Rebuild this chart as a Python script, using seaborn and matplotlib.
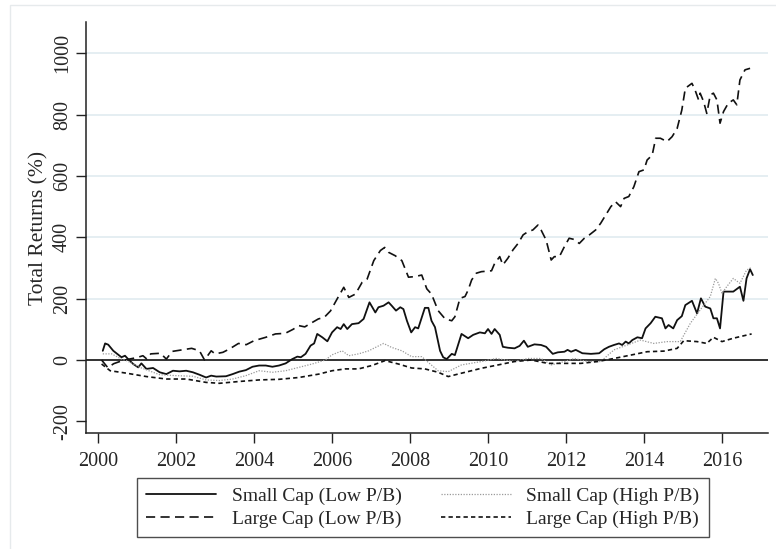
import numpy as np
import pandas as pd
import seaborn as sns
import matplotlib.pyplot as plt
from matplotlib.patches import Rectangle

sns.set_theme(style="white")
plt.rcParams['font.family'] = ['Liberation Serif', 'DejaVu Serif']
plt.rcParams['axes.unicode_minus'] = False

# (year, total return %)
small_low_x = [2000.12, 2000.18, 2000.26, 2000.39, 2000.52, 2000.6, 2000.69, 2000.77, 2000.9, 2001.03,
               2001.11, 2001.24, 2001.41, 2001.58, 2001.75, 2001.92, 2002.09, 2002.26, 2002.43, 2002.6,
               2002.77, 2002.9, 2003.03, 2003.28, 2003.45, 2003.62, 2003.79, 2003.96, 2004.13, 2004.3,
               2004.47, 2004.64, 2004.81, 2004.98, 2005.11, 2005.2, 2005.32, 2005.45, 2005.54, 2005.62,
               2005.75, 2005.88, 2006.0, 2006.13, 2006.22, 2006.3, 2006.39, 2006.51, 2006.68, 2006.81,
               2006.96, 2007.11, 2007.19, 2007.32, 2007.45, 2007.53, 2007.64, 2007.75, 2007.83, 2007.92,
               2008.03, 2008.13, 2008.21, 2008.3, 2008.38, 2008.47, 2008.55, 2008.64, 2008.77, 2008.85,
               2008.94, 2009.07, 2009.15, 2009.32, 2009.49, 2009.62, 2009.79, 2009.92, 2010.0, 2010.09,
               2010.17, 2010.3, 2010.38, 2010.51, 2010.68, 2010.81, 2010.92, 2011.02, 2011.19, 2011.36,
               2011.49, 2011.66, 2011.79, 2011.96, 2012.04, 2012.13, 2012.25, 2012.42, 2012.64, 2012.85,
               2012.98, 2013.1, 2013.23, 2013.36, 2013.44, 2013.53, 2013.61, 2013.7, 2013.83, 2013.95,
               2014.04, 2014.17, 2014.29, 2014.46, 2014.55, 2014.63, 2014.75, 2014.85, 2014.97, 2015.06,
               2015.23, 2015.36, 2015.46, 2015.57, 2015.7, 2015.78, 2015.87, 2015.95, 2016.04, 2016.29,
               2016.46, 2016.55, 2016.63, 2016.72, 2016.79]
small_low_y = [30, 54, 50, 30, 17, 9, 14, 3, -13, -24,
               -11, -29, -26, -40, -46, -35, -37, -35, -40, -48,
               -57, -51, -54, -53, -46, -38, -33, -22, -18, -18,
               -22, -18, -11, 3, 11, 9, 20, 47, 54, 85,
               74, 61, 90, 107, 101, 117, 101, 117, 120, 134,
               188, 155, 172, 177, 188, 177, 161, 172, 166, 128,
               90, 107, 103, 139, 170, 170, 128, 107, 30, 9,
               3, 20, 16, 85, 71, 82, 90, 87, 101, 85,
               101, 82, 43, 40, 38, 46, 63, 43, 51, 49,
               43, 20, 25, 27, 33, 27, 33, 22, 20, 22,
               35, 43, 49, 54, 49, 60, 54, 65, 74, 71,
               103, 120, 141, 136, 103, 114, 103, 130, 143, 179,
               193, 152, 201, 174, 168, 136, 136, 103, 223, 223,
               239, 193, 266, 296, 277]

large_low_x = [2000.09, 2000.25, 2000.4, 2000.6, 2000.8, 2001.0, 2001.15, 2001.25, 2001.35, 2001.6,
               2001.75, 2001.9, 2002.1, 2002.4, 2002.6, 2002.73, 2002.9, 2003.0, 2003.2, 2003.37,
               2003.6, 2003.8, 2004.0, 2004.3, 2004.55, 2004.8, 2005.0, 2005.15, 2005.3, 2005.5,
               2005.65, 2005.8, 2005.96, 2006.13, 2006.3, 2006.43, 2006.6, 2006.77, 2006.9, 2007.07,
               2007.24, 2007.35, 2007.45, 2007.62, 2007.79, 2007.96, 2008.13, 2008.3, 2008.43, 2008.55,
               2008.72, 2008.9, 2009.07, 2009.15, 2009.28, 2009.41, 2009.49, 2009.58, 2009.7, 2009.83,
               2010.09, 2010.17, 2010.3, 2010.38, 2010.51, 2010.64, 2010.77, 2010.9, 2011.02, 2011.15,
               2011.28, 2011.36, 2011.49, 2011.62, 2011.7, 2011.83, 2011.96, 2012.08, 2012.21, 2012.34,
               2012.47, 2012.6, 2012.76, 2012.89, 2013.02, 2013.15, 2013.27, 2013.4, 2013.49, 2013.61,
               2013.74, 2013.87, 2014.0, 2014.08, 2014.21, 2014.3, 2014.42, 2014.59, 2014.72, 2014.85,
               2014.97, 2015.06, 2015.23, 2015.31, 2015.4, 2015.44, 2015.53, 2015.61, 2015.7, 2015.78,
               2015.87, 2015.95, 2016.04, 2016.16, 2016.29, 2016.38, 2016.46, 2016.59, 2016.72]
large_low_y = [0, -25, -12, -3, 3, 8, 14, 3, 20, 22,
               3, 28, 32, 38, 30, 0, 30, 20, 25, 36,
               54, 50, 63, 74, 85, 87, 100, 112, 108, 123,
               134, 139, 160, 199, 237, 204, 215, 253, 264, 324,
               357, 367, 351, 340, 324, 270, 272, 277, 232, 215,
               161, 134, 128, 141, 201, 207, 228, 261, 283, 288,
               291, 315, 337, 310, 332, 359, 380, 408, 418, 424,
               440, 424, 391, 326, 337, 337, 370, 397, 393, 380,
               397, 408, 424, 446, 473, 500, 516, 500, 527, 533,
               565, 614, 620, 652, 668, 723, 723, 712, 728, 755,
               815, 886, 902, 880, 848, 870, 842, 804, 864, 870,
               848, 772, 810, 837, 848, 832, 913, 946, 951]

small_high_x = [2000.12, 2000.35, 2000.6, 2000.73, 2001.07, 2001.58, 2002.0, 2002.43, 2002.77, 2003.11,
                2003.45, 2003.79, 2004.13, 2004.47, 2004.81, 2005.15, 2005.49, 2005.83, 2006.0, 2006.26,
                2006.43, 2006.68, 2006.94, 2007.32, 2007.53, 2007.79, 2008.04, 2008.3, 2008.47, 2008.72,
                2008.98, 2009.32, 2009.83, 2010.21, 2010.68, 2011.02, 2011.36, 2011.62, 2011.96, 2012.21,
                2012.55, 2012.89, 2013.23, 2013.57, 2013.91, 2014.25, 2014.59, 2014.93, 2015.19, 2015.44,
                2015.7, 2015.83, 2015.91, 2016.0, 2016.12, 2016.29, 2016.46, 2016.63, 2016.76]
small_high_y = [20, 20, 3, -2, -24, -48, -51, -53, -65, -67,
                -62, -51, -35, -40, -35, -24, -13, 0, 17, 30,
                14, 20, 30, 54, 41, 30, 11, 11, -8, -35,
                -38, -16, -5, 5, -5, 5, 5, -16, -5, 5,
                -5, -5, 33, 49, 65, 54, 60, 60, 120, 163,
                207, 266, 250, 217, 239, 266, 250, 293, 302]

large_high_x = [2000.09, 2000.31, 2000.73, 2001.24, 2001.75, 2002.26, 2002.77, 2003.11, 2003.62, 2004.13,
                2004.64, 2005.15, 2005.66, 2006.0, 2006.34, 2006.68, 2007.02, 2007.36, 2007.7, 2008.04,
                2008.38, 2008.72, 2008.98, 2009.32, 2009.83, 2010.26, 2010.68, 2011.11, 2011.53, 2011.96,
                2012.38, 2012.81, 2013.23, 2013.66, 2014.08, 2014.51, 2014.85, 2015.02, 2015.36, 2015.61,
                2015.78, 2016.0, 2016.29, 2016.76]
large_high_y = [-13, -35, -43, -54, -62, -62, -73, -76, -70, -65,
                -63, -57, -46, -35, -29, -29, -18, -2, -13, -26,
                -29, -40, -54, -43, -27, -16, -5, 0, -11, -11,
                -11, -5, 5, 16, 27, 29, 38, 63, 60, 54,
                74, 60, 71, 85]

labels = ["Small Cap (Low P/B)", "Large Cap (Low P/B)",
          "Small Cap (High P/B)", "Large Cap (High P/B)"]
yticks = [-200, 0, 200, 400, 600, 800, 1000]
xticks = list(range(2000, 2017, 2))

series = [
    (small_low_x, small_low_y, "#111111", "-", 1.3),
    (large_low_x, large_low_y, "#111111", (0, (5.5, 3.2)), 1.2),
    (small_high_x, small_high_y, "#9a9a9a", (0, (1, 1.2)), 0.9),
    (large_high_x, large_high_y, "#111111", (0, (2.6, 1.9)), 1.2),
]

fig = plt.figure(figsize=(7.76, 5.49), dpi=100)
ax = fig.add_axes([86/776, 1-433/549, (768-86)/776, (433-22)/549])

# faint outer graph-region frame
fig.patches.append(Rectangle((10/776, -0.1), 1.2, 1.1-5/549, transform=fig.transFigure,
                             fill=False, edgecolor="#e6eaec", lw=1.0))

for t in yticks:
    if t > 0:
        ax.axhline(t, color="#e3edf1", lw=1.3, zorder=0)
ax.axhline(0, color="#222222", lw=1.3, zorder=1)

handles = []
for (x, y, c, ls, lw), lab in zip(series, labels):
    df = pd.DataFrame({"year": x, "ret": y})
    sns.lineplot(data=df, x="year", y="ret", ax=ax, color=c, linestyle=ls, lw=lw,
                 estimator=None, sort=False, label=lab, legend=False)
    handles.append(ax.lines[-1])

ax.set_xlim(1999.69, 2017.18)
ax.set_ylim(-238, 1102)
ax.set_xticks(xticks)
ax.set_yticks(yticks)
ax.set_xlabel("")
ax.set_ylabel("Total Returns (%)", fontsize=15.5, labelpad=3)
ax.tick_params(axis="both", direction="out", length=7, width=1.0, color="#222222",
               labelsize=14.5, left=True, bottom=True)
ax.tick_params(axis="x", pad=7)
ax.tick_params(axis="y", pad=3)
for lab in ax.get_yticklabels():
    lab.set_rotation(90)
    lab.set_va("center")
for s in ["top", "right"]:
    ax.spines[s].set_visible(False)
for s in ["left", "bottom"]:
    ax.spines[s].set_color("#222222")
    ax.spines[s].set_linewidth(1.1)

leg = fig.legend(handles=handles, labels=labels, ncol=2, loc="upper center",
                 bbox_to_anchor=(423/776, 1-478/549), borderaxespad=0, fontsize=14,
                 frameon=True, fancybox=False, edgecolor="#222222", handlelength=3.6,
                 columnspacing=2.0, labelspacing=0.25, borderpad=0.48, handletextpad=0.8)
leg.get_frame().set_linewidth(1.0)

fig.savefig("out.png", dpi=100)
